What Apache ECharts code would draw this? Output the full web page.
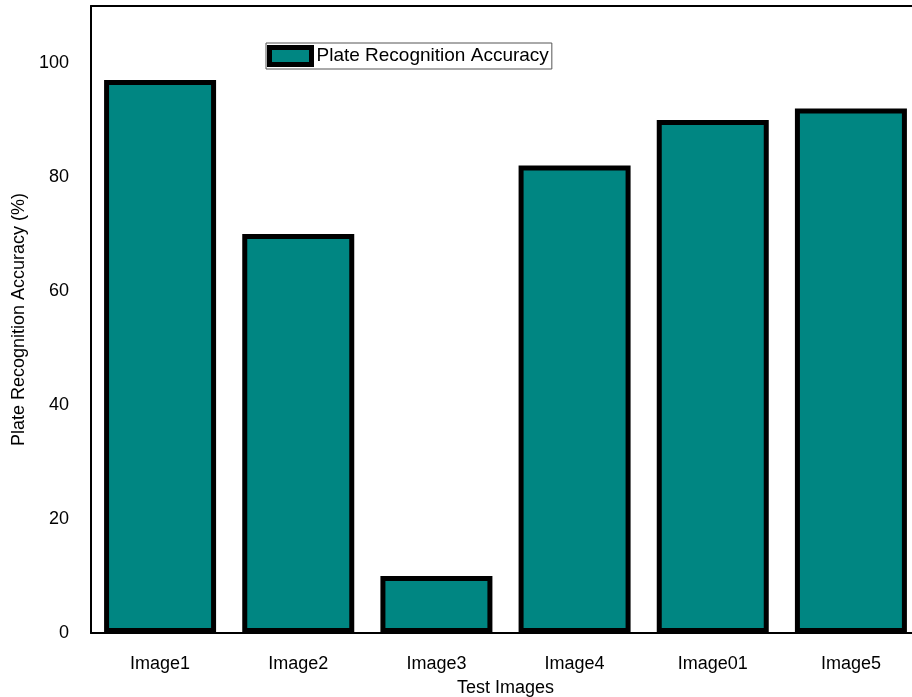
<!DOCTYPE html>
<html>
<head>
<meta charset="utf-8">
<script src="https://cdn.jsdelivr.net/npm/echarts@6/dist/echarts.min.js"></script>
<style>
  html, body { margin: 0; padding: 0; background: #fff; }
  #chart { width: 912px; height: 697px; }
</style>
</head>
<body>
<div id="chart"></div>
<script>
// Recognition accuracy per test image
const categories = ['Image1', 'Image2', 'Image3', 'Image4', 'Image01', 'Image5'];
const accuracy = [97, 70, 10, 82, 90, 92];
const seriesName = 'Plate Recognition Accuracy';
const yTicks = [0, 20, 40, 60, 80, 100];

const FONT = '"Liberation Sans", Arial, sans-serif';
const TEAL = '#008682';

const chart = echarts.init(document.getElementById('chart'), null, { renderer: 'canvas' });

chart.setOption({
  animation: false,
  backgroundColor: '#ffffff',
  textStyle: { fontFamily: FONT, color: '#000' },
  grid: { left: 91, top: 6, width: 829, height: 627, outerBoundsMode: 'none', containLabel: false },
  legend: {
    data: [seriesName],
    left: 266,
    top: 43,
    padding: [2, 3, 2, 1],
    backgroundColor: '#ffffff',
    borderColor: '#555',
    borderWidth: 1,
    borderRadius: 0,
    itemWidth: 42,
    itemHeight: 17,
    itemGap: 0,
    icon: 'rect',
    itemStyle: { color: TEAL, borderColor: '#000', borderWidth: 5 },
    textStyle: { fontFamily: FONT, fontSize: 19, color: '#000' }
  },
  xAxis: [
    {
      type: 'category',
      data: categories,
      name: 'Test Images',
      nameLocation: 'middle',
      nameGap: 46,
      nameTextStyle: { fontFamily: FONT, fontSize: 18, color: '#000' },
      axisLine: { show: true, lineStyle: { color: '#000', width: 2 } },
      axisTick: { show: false },
      axisLabel: { fontFamily: FONT, fontSize: 18, color: '#000', margin: 22 },
      splitLine: { show: false }
    },
    {
      type: 'category',
      data: categories,
      position: 'top',
      axisLine: { show: true, lineStyle: { color: '#000', width: 2 } },
      axisTick: { show: false },
      axisLabel: { show: false },
      splitLine: { show: false }
    }
  ],
  yAxis: {
    type: 'value',
    min: 0,
    max: 110,
    interval: 20,
    name: 'Plate Recognition Accuracy (%)',
    nameLocation: 'middle',
    nameGap: 62,
    nameTextStyle: { fontFamily: FONT, fontSize: 18, color: '#000' },
    axisLine: { show: true, lineStyle: { color: '#000', width: 2 } },
    axisTick: { show: false },
    splitLine: { show: false },
    axisLabel: {
      fontFamily: FONT, fontSize: 18, color: '#000', margin: 22,
      formatter: v => (yTicks.indexOf(v) >= 0 ? String(v) : '')
    }
  },
  series: [
    {
      name: seriesName,
      type: 'bar',
      data: accuracy,
      barWidth: 112,
      itemStyle: { color: TEAL, borderColor: '#000', borderWidth: 5 }
    }
  ]
});
</script>
</body>
</html>
